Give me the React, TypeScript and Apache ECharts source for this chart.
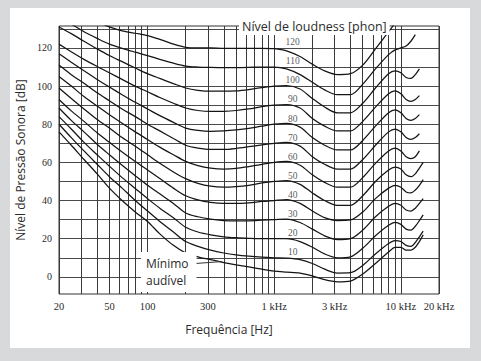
import React, { useEffect, useRef } from 'react';
import * as echarts from 'echarts';

const freqs = [20, 25, 31.5, 40, 50, 63, 80, 100, 125, 160, 200, 250, 315, 400, 500, 630, 800, 1000, 1250, 1600, 2000, 2500, 3150, 4000, 5000, 6300, 8000, 9000, 10000, 11000, 12000, 13000, 14000, 15000];

// Sound pressure level (dB) of each contour at the frequencies above
const threshold = [76, 69, 61.5, 54, 46.5, 40, 34, 29, 22.5, 16.5, 12.5, 10.5, 9, 7.5, 6.3, 5.2, 4, 3, 2.5, 2, 0.5, -1.5, -2.6, -2.2, 1.5, 7, 13, 15.5, 15.5, 14, 14, 15.5, 18.5, 22];
const phon10 = [80, 73, 66, 59, 52.5, 46.5, 40, 34.5, 29, 23.5, 18.5, 16, 14, 12.5, 11.5, 10.8, 10.3, 10, 9.8, 9, 7, 4, 2, 2.2, 6, 12, 17.5, 19, 18.5, 16.5, 16, 18, 21, 24];
const phon20 = [84, 77.5, 70.5, 64, 58, 52, 46.3, 41, 36, 31, 26, 23.5, 22, 21, 20.5, 20.2, 20, 20, 20, 18.5, 15.5, 12, 10, 10.5, 15, 21.5, 27, 28.5, 27.5, 25, 24.5, 26.5, 29.5, 32.5];
const phon30 = [88.5, 82, 76, 69.5, 64, 58.5, 53, 48, 43.5, 38.5, 33.5, 31.5, 30.2, 29.5, 29.3, 29.4, 29.7, 30, 30.3, 28.5, 25, 21.5, 19.5, 20, 24.5, 31.5, 37, 38.5, 37.5, 35, 34.5, 36, 38.5, 41];
const phon40 = [93, 87, 81.5, 75.5, 70.5, 65.5, 60.5, 56, 51.5, 46.5, 42.5, 40.3, 39, 38.5, 38.5, 38.8, 39.5, 40, 40.5, 38.5, 34.5, 31, 29.5, 29.8, 34, 41, 46.5, 48, 47, 44.5, 44, 45.5, 48, 51];
const phon50 = [99, 93.5, 88, 82.5, 78, 73, 68.5, 64, 59.5, 55, 51.5, 49, 47.5, 47, 47.3, 48, 49.2, 50, 50.5, 48.5, 44, 40, 37.5, 37.5, 42.5, 50, 56, 57.5, 56.5, 53.5, 52.5, 54, 57, 60];
const phon60 = [105, 100, 94.5, 89.5, 85, 80.5, 76, 72, 68, 64, 60.5, 58.3, 57, 56.5, 56.8, 57.8, 59, 60, 60.5, 58.5, 53.5, 49.5, 47, 47, 52, 59.5, 66, 67.5, 66, 63, 62, 63, 66];
const phon70 = [111, 106, 101.5, 96.5, 92.3, 88, 84, 80, 76.5, 72.5, 69, 67.5, 66.8, 66.8, 67.3, 68.2, 69.2, 70, 70.5, 68.5, 63, 59, 56.5, 56.5, 61.5, 69, 76, 77.5, 76, 73, 72, 73, 75];
const phon80 = [117, 112.5, 108, 103.5, 99.5, 95.5, 91.5, 88, 84.5, 81, 78, 76.8, 76.3, 76.5, 77, 77.8, 79, 80, 80.5, 78.5, 73, 69, 66.5, 66.5, 71.5, 79, 86, 87.5, 86, 83, 82, 83, 85];
const phon90 = [122, 118, 114, 110.3, 107, 103.5, 100, 97, 94, 91, 88.5, 87.2, 86.7, 86.8, 87.2, 88, 89.2, 90, 90.3, 88.5, 83, 79, 76.5, 76.5, 81.5, 89, 96, 97.5, 96, 93, 92, 93, 95];
const phon100 = [131, 127.5, 123.5, 119.5, 116, 112.8, 109.5, 106.5, 104, 101.3, 99, 97.8, 97.3, 97.3, 97.5, 98.2, 99.2, 100, 100.3, 98.5, 93.5, 89, 86, 86, 91, 99, 106.5, 108, 107, 104.5, 104, 106, 109];
const phon110 = [136, 132.5, 128.5, 125, 122, 119.8, 117.8, 116, 114, 112, 110.5, 110, 109.8, 109.7, 109.7, 109.8, 110, 110, 109, 106, 102, 98, 95.5, 95.5, 101, 109, 116.5, 119, 120, 121, 123.5, 127];
const phon120 = [146, 142, 138, 134, 131, 129, 127.7, 126.5, 124.5, 122, 120.3, 120, 120, 119.8, 119.8, 119.8, 119.8, 119.6, 118.5, 115.5, 111.5, 108, 106, 106.5, 111, 119.5, 128.5, 133];

const curves = [threshold, phon10, phon20, phon30, phon40, phon50, phon60, phon70, phon80, phon90, phon100, phon110, phon120];

// Contour labels (phon)
const phonLabels = [10, 20, 30, 40, 50, 60, 70, 80, 90, 100, 110, 120];
const labelFreq = 1400;
const labelOffsetDb = 3;

// Axis ticks
const xGridFreqs = [20, 30, 40, 50, 60, 70, 80, 90, 100, 200, 300, 400, 500, 600, 700, 800, 900, 1000, 2000, 3000, 4000, 5000, 6000, 7000, 8000, 9000, 10000, 20000];
const xLabelFreqs = [20, 50, 100, 300, 1000, 3000, 10000, 20000];
const yGridLevels = [0, 10, 20, 30, 40, 50, 60, 70, 80, 90, 100, 110, 120, 130];
const yLabelLevels = [0, 20, 40, 60, 80, 100, 120];

// Leader line from the "Mínimo audível" note to the threshold curve
const leaderStart = [240, 7];
const leaderEnd = [385, 8];

export default function App() {
  const ref = useRef<HTMLDivElement>(null);

  useEffect(() => {
    if (!ref.current) return;
    const chart = echarts.init(ref.current, undefined, { renderer: 'svg' });
    const serif = 'Liberation Serif';
    const sans = 'Open Sans';
    const ink = '#2b2b2b';

    const lineSeries = curves.map((vals, ci) => ({
      type: 'line',
      data: vals.map((v, i) => [freqs[i], v]),
      smooth: 0.3,
      showSymbol: false,
      clip: true,
      silent: true,
      z: 3,
      lineStyle: { color: '#151515', width: 1.25 },
      ...(ci === 0
        ? {
            markLine: {
              silent: true,
              symbol: 'none',
              label: { show: false },
              lineStyle: { color: '#333', width: 1, type: 'solid' },
              data: [[{ coord: leaderStart }, { coord: leaderEnd }]],
            },
          }
        : {}),
    }));

    chart.setOption({
      animation: false,
      backgroundColor: 'transparent',
      title: [
        {
          text: 'Nível de loudness [phon]',
          left: 239,
          top: 18,
          padding: [1, 3],
          backgroundColor: '#fff',
          textStyle: { fontFamily: sans, fontSize: 12.5, fontWeight: 'normal', color: ink, lineHeight: 15 },
          z: 10,
        },
        {
          text: 'Mínimo\naudível',
          left: 141,
          top: 252,
          padding: [3, 8, 3, 5],
          backgroundColor: '#fff',
          textStyle: { fontFamily: sans, fontSize: 12, fontWeight: 'normal', color: ink, lineHeight: 17 },
          z: 10,
        },
      ],
      grid: {
        left: 59,
        right: 42,
        top: 26,
        bottom: 67,
        show: true,
        borderColor: '#333',
        borderWidth: 1,
        backgroundColor: 'transparent',
      },
      xAxis: {
        type: 'log',
        logBase: 10,
        min: 20,
        max: 20000,
        name: 'Frequência [Hz]',
        nameLocation: 'middle',
        nameGap: 29,
        nameTextStyle: { fontFamily: sans, fontSize: 12, color: ink, padding: [0, 40, 0, 0] },
        axisLine: { show: false },
        axisTick: { show: false, customValues: xGridFreqs },
        axisLabel: {
          customValues: xLabelFreqs,
          fontFamily: serif,
          fontSize: 10.5,
          color: ink,
          margin: 7,
          formatter: (v: number) => (v >= 1000 ? `${Math.round(v / 1000)} kHz` : `${Math.round(v)}`),
        },
        splitLine: { show: true, lineStyle: { color: '#3a3a3a', width: 1 } },
      },
      yAxis: {
        type: 'value',
        min: -9,
        max: 131.5,
        name: 'Nível de Pressão Sonora [dB]',
        nameLocation: 'middle',
        nameGap: 30,
        nameTextStyle: { fontFamily: sans, fontSize: 12, color: ink },
        axisLine: { show: false },
        axisTick: { show: false, customValues: yGridLevels },
        axisLabel: { customValues: yLabelLevels, fontFamily: serif, fontSize: 10, color: ink, margin: 7 },
        splitLine: { show: true, lineStyle: { color: '#4a4a4a', width: 1 } },
      },
      series: [
        ...lineSeries,
        {
          type: 'scatter',
          data: phonLabels.map((p) => ({ value: [labelFreq, p + labelOffsetDb], name: String(p) })),
          symbolSize: 0,
          silent: true,
          z: 4,
          label: {
            show: true,
            position: 'inside',
            formatter: '{b}',
            fontFamily: serif,
            fontSize: 9.5,
            color: ink,
          },
        },
      ],
    });

    return () => chart.dispose();
  }, []);

  return (
    <div style={{ position: 'absolute', left: 0, top: 0, width: 481, height: 361, background: '#d7d9da' }}>
      <div style={{ position: 'absolute', left: 10, top: 8, width: 460, height: 340, background: '#ffffff' }} />
      <div ref={ref} style={{ position: 'absolute', left: 0, top: 0, width: 481, height: 361 }} />
    </div>
  );
}
